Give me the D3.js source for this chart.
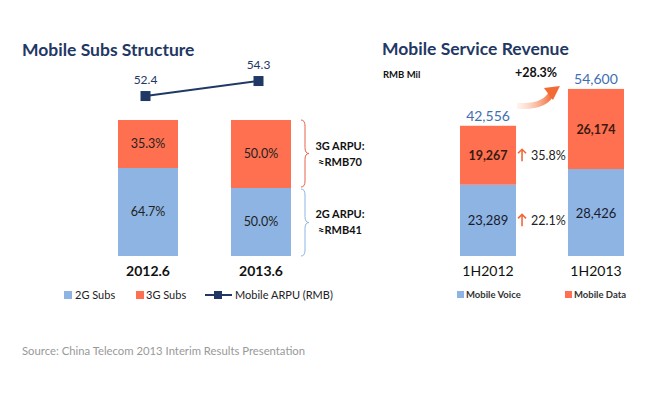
<!DOCTYPE html>
<html>
<head>
<meta charset="utf-8">
<script src="https://cdn.jsdelivr.net/npm/d3@7"></script>
<style>
  body { margin: 0; background: #fff; }
  svg text { font-family: Lato, "Open Sans", sans-serif; }
</style>
</head>
<body>
<div class="chart"></div>
<script>
// left chart data
const subsCats = ["2012.6", "2013.6"];
const subs2G = [64.7, 50.0];
const subs3G = [35.3, 50.0];
const arpu = [52.4, 54.3];

// right chart data
const revCats = ["1H2012", "1H2013"];
const revVoice = [23289, 28426];
const revData = [19267, 26174];
const revTotal = [42556, 54600];
const voiceGrowth = "22.1%";
const dataGrowth = "35.8%";
const totalGrowth = "+28.3%";

const width = 660, height = 396;
const blue = "#8db4e2", orange = "#ff7050", navy = "#1f3864", valBlue = "#3f6fb0";

const svg = d3.select(".chart").append("svg")
  .attr("width", width).attr("height", height)
  .attr("viewBox", [0, 0, width, height]);

const defs = svg.append("defs");

// ---------- left: Mobile Subs Structure ----------
svg.append("text").attr("x", 22).attr("y", 56)
  .attr("font-size", 17.5).attr("font-weight", "bold").attr("fill", navy)
  .text("Mobile Subs Structure");

const xL = d3.scaleBand().domain(subsCats).range([118, 291]).paddingInner(0.469);
const yL = d3.scaleLinear().domain([0, 100]).range([256, 120]);
const yArpu = d3.scaleLinear().domain([45, 60]).range([154.5, 36]);

const subsRows = subsCats.map((c, i) => ({ cat: c, g2: subs2G[i], g3: subs3G[i] }));

const gL = svg.append("g");
gL.selectAll("rect.g2").data(subsRows).join("rect")
  .attr("x", d => xL(d.cat)).attr("width", xL.bandwidth())
  .attr("y", d => yL(d.g2)).attr("height", d => yL(0) - yL(d.g2))
  .attr("fill", blue);
gL.selectAll("rect.g3").data(subsRows).join("rect")
  .attr("x", d => xL(d.cat)).attr("width", xL.bandwidth())
  .attr("y", d => yL(d.g2 + d.g3)).attr("height", d => yL(d.g2) - yL(d.g2 + d.g3))
  .attr("fill", orange);

gL.selectAll("text.l2").data(subsRows).join("text")
  .attr("x", d => xL(d.cat) + xL.bandwidth() / 2)
  .attr("y", d => (yL(0) + yL(d.g2)) / 2 + 4)
  .attr("text-anchor", "middle").attr("font-size", 12.5).attr("fill", "#222")
  .text(d => d.g2.toFixed(1) + "%");
gL.selectAll("text.l3").data(subsRows).join("text")
  .attr("x", d => xL(d.cat) + xL.bandwidth() / 2)
  .attr("y", d => (yL(d.g2) + yL(100)) / 2 + 4)
  .attr("text-anchor", "middle").attr("font-size", 12.5).attr("fill", "#222")
  .text(d => d.g3.toFixed(1) + "%");

gL.selectAll("text.cat").data(subsCats).join("text")
  .attr("x", d => xL(d) + xL.bandwidth() / 2).attr("y", 276)
  .attr("text-anchor", "middle").attr("font-size", 14).attr("font-weight", "bold").attr("fill", "#111")
  .text(d => d);

// ARPU line, markers sit a little left of bar centres as in the slide
const px = i => xL(subsCats[i]) + xL.bandwidth() / 2 - 2.5;
const line = d3.line().x((d, i) => px(i)).y(d => yArpu(d));
gL.append("path").datum(arpu).attr("d", line)
  .attr("fill", "none").attr("stroke", navy).attr("stroke-width", 2);
gL.selectAll("rect.mk").data(arpu).join("rect")
  .attr("x", (d, i) => px(i) - 5)
  .attr("y", d => yArpu(d) - 5).attr("width", 10).attr("height", 10)
  .attr("fill", navy);
gL.selectAll("text.arpu").data(arpu).join("text")
  .attr("x", (d, i) => px(i))
  .attr("y", d => yArpu(d) - 12)
  .attr("text-anchor", "middle").attr("font-size", 12).attr("fill", navy)
  .text(d => d.toFixed(1));

// braces
function brace(x, y1, y2, w) {
  const ym = (y1 + y2) / 2, h = w / 2, r = 6;
  return `M${x},${y1} Q${x + h},${y1} ${x + h},${y1 + r} L${x + h},${ym - r} Q${x + h},${ym} ${x + w},${ym}`
    + ` Q${x + h},${ym} ${x + h},${ym + r} L${x + h},${y2 - r} Q${x + h},${y2} ${x},${y2}`;
}
const bx = xL(subsCats[1]) + xL.bandwidth() + 10;
gL.append("path").attr("d", brace(bx, yL(100), yL(subs2G[1]) - 1, 8))
  .attr("fill", "none").attr("stroke", "#e8624a").attr("stroke-width", 1);
gL.append("path").attr("d", brace(bx, yL(subs2G[1]) + 1, yL(0), 8))
  .attr("fill", "none").attr("stroke", "#8db4e2").attr("stroke-width", 1);

const notes = [
  { y: (yL(100) + yL(subs2G[1])) / 2, lines: ["3G ARPU:", "\u2248RMB70"] },
  { y: (yL(subs2G[1]) + yL(0)) / 2, lines: ["2G ARPU:", "\u2248RMB41"] }
];
notes.forEach(n => {
  n.lines.forEach((t, k) => {
    gL.append("text").attr("x", 340).attr("y", n.y - 4 + k * 16)
      .attr("text-anchor", "middle").attr("font-size", 11).attr("font-weight", "bold").attr("fill", "#111")
      .text(t);
  });
});

// left legend
const legL = svg.append("g").attr("font-size", 11).attr("fill", "#222");
legL.append("rect").attr("x", 64).attr("y", 291).attr("width", 8).attr("height", 8).attr("fill", blue);
legL.append("text").attr("x", 75).attr("y", 299).text("2G Subs");
legL.append("rect").attr("x", 136).attr("y", 291).attr("width", 8).attr("height", 8).attr("fill", orange);
legL.append("text").attr("x", 146).attr("y", 299).text("3G Subs");
legL.append("line").attr("x1", 205).attr("x2", 232).attr("y1", 295).attr("y2", 295).attr("stroke", navy).attr("stroke-width", 2);
legL.append("rect").attr("x", 214).attr("y", 291).attr("width", 8).attr("height", 8).attr("fill", navy);
legL.append("text").attr("x", 235).attr("y", 299).text("Mobile ARPU (RMB)");

// ---------- right: Mobile Service Revenue ----------
svg.append("text").attr("x", 382).attr("y", 55)
  .attr("font-size", 17.5).attr("font-weight", "bold").attr("fill", navy)
  .text("Mobile Service Revenue");
svg.append("text").attr("x", 383).attr("y", 78)
  .attr("font-size", 9.5).attr("font-weight", "bold").attr("fill", "#111")
  .text("RMB Mil");

const xR = d3.scaleBand().domain(revCats).range([460, 624]).paddingInner(0.481);
const yR = d3.scaleLinear().domain([0, 60000]).range([256, 72.4]);

const revRows = revCats.map((c, i) => ({ cat: c, voice: revVoice[i], data: revData[i], total: revTotal[i] }));
const gR = svg.append("g");
gR.selectAll("rect.v").data(revRows).join("rect")
  .attr("x", d => xR(d.cat)).attr("width", xR.bandwidth())
  .attr("y", d => yR(d.voice)).attr("height", d => yR(0) - yR(d.voice))
  .attr("fill", blue);
gR.selectAll("rect.d").data(revRows).join("rect")
  .attr("x", d => xR(d.cat)).attr("width", xR.bandwidth())
  .attr("y", d => yR(d.voice + d.data)).attr("height", d => yR(d.voice) - yR(d.voice + d.data))
  .attr("fill", orange);

const fmt = d3.format(",");
gR.selectAll("text.v").data(revRows).join("text")
  .attr("x", d => xR(d.cat) + xR.bandwidth() / 2).attr("y", d => (yR(0) + yR(d.voice)) / 2 + 5)
  .attr("text-anchor", "middle").attr("font-size", 13).attr("fill", "#1a1a2e")
  .text(d => fmt(d.voice));
gR.selectAll("text.d").data(revRows).join("text")
  .attr("x", d => xR(d.cat) + xR.bandwidth() / 2).attr("y", d => (yR(d.voice) + yR(d.voice + d.data)) / 2 + 5)
  .attr("text-anchor", "middle").attr("font-size", 12.5).attr("font-weight", "bold").attr("fill", "#3a1a10")
  .text(d => fmt(d.data));
gR.selectAll("text.t").data(revRows).join("text")
  .attr("x", d => xR(d.cat) + xR.bandwidth() / 2).attr("y", d => yR(d.total) - 5)
  .attr("text-anchor", "middle").attr("font-size", 14).attr("fill", valBlue)
  .text(d => fmt(d.total));
gR.selectAll("text.cat").data(revCats).join("text")
  .attr("x", d => xR(d) + xR.bandwidth() / 2).attr("y", 276)
  .attr("text-anchor", "middle").attr("font-size", 14).attr("fill", "#111")
  .text(d => d);

// growth labels with small up arrows
const growth = [
  { y: (yR(revVoice[0]) + yR(revTotal[0])) / 2, t: dataGrowth },
  { y: (yR(0) + yR(revVoice[0])) / 2, t: voiceGrowth }
];
const gx = xR(revCats[0]) + xR.bandwidth();
growth.forEach(g => {
  gR.append("path")
    .attr("d", `M${gx + 6},${g.y + 6} L${gx + 6},${g.y - 6} M${gx + 2},${g.y - 2} L${gx + 6},${g.y - 6} L${gx + 10},${g.y - 2}`)
    .attr("fill", "none").attr("stroke", "#f06a3a").attr("stroke-width", 1.6);
  gR.append("text").attr("x", gx + 15).attr("y", g.y + 5)
    .attr("font-size", 12.5).attr("fill", "#222").text(g.t);
});

// curved growth arrow
const grad = defs.append("linearGradient").attr("id", "arr").attr("x1", "0%").attr("x2", "100%");
grad.append("stop").attr("offset", "0%").attr("stop-color", "#ffd9c8").attr("stop-opacity", 0.3);
grad.append("stop").attr("offset", "100%").attr("stop-color", "#f26b35");
const ax0 = gx + 1, ay0 = yR(revTotal[0]) - 20;
const ax1 = xR(revCats[1]) - 12, ay1 = yR(revTotal[1]) - 2;
gR.append("path")
  .attr("d", `M${ax0},${ay0} Q${ax1 - 10},${ay0 + 2} ${ax1 - 4},${ay1 + 5}`)
  .attr("fill", "none").attr("stroke", "url(#arr)").attr("stroke-width", 6);
gR.append("path")
  .attr("d", `M${ax1 - 12},${ay1 + 1} L${ax1 + 4},${ay1 - 1} L${ax1 - 3},${ay1 + 13} Z`)
  .attr("fill", "#f26b35");
gR.append("text").attr("x", 536).attr("y", 77)
  .attr("text-anchor", "middle").attr("font-size", 12.5).attr("font-weight", "bold").attr("fill", "#111")
  .text(totalGrowth);

// right legend
const legR = svg.append("g").attr("font-size", 9.5).attr("font-weight", "bold").attr("fill", "#333");
legR.append("rect").attr("x", 457).attr("y", 291).attr("width", 7).attr("height", 7).attr("fill", blue);
legR.append("text").attr("x", 466).attr("y", 298).text("Mobile Voice");
legR.append("rect").attr("x", 565).attr("y", 291).attr("width", 7).attr("height", 7).attr("fill", orange);
legR.append("text").attr("x", 574).attr("y", 298).text("Mobile Data");

// source
svg.append("text").attr("x", 22).attr("y", 355)
  .attr("font-size", 11.3).attr("fill", "#999")
  .text("Source: China Telecom 2013 Interim Results Presentation");
</script>
</body>
</html>
